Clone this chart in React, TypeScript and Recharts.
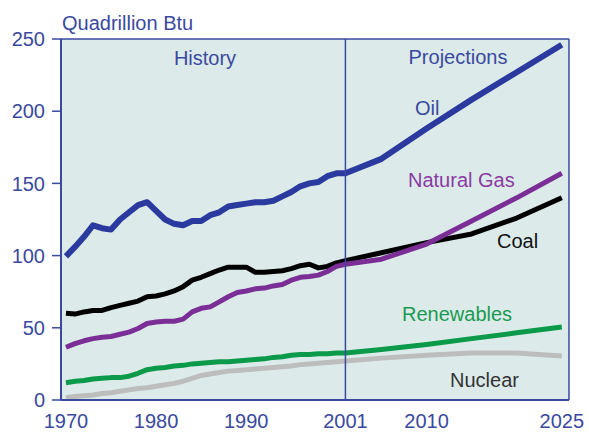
import React from 'react'
import { LineChart, Line, XAxis, YAxis, CartesianGrid, ReferenceLine } from 'recharts'

// years: annual history 1970-2001, then projection points
const years = [
  1970, 1971, 1972, 1973, 1974, 1975, 1976, 1977, 1978, 1979,
  1980, 1981, 1982, 1983, 1984, 1985, 1986, 1987, 1988, 1989,
  1990, 1991, 1992, 1993, 1994, 1995, 1996, 1997, 1998, 1999,
  2000, 2001, 2005, 2010, 2015, 2020, 2025,
]

const oil = [
  99.5, 106, 113, 121, 119, 118, 125, 130, 135, 137,
  131, 125, 122, 121, 124, 124, 128, 130, 134, 135,
  136, 137, 137, 138, 141, 144, 148, 150, 151, 155,
  157, 157, 167, 188, 208, 227, 246,
]

const gas = [
  36.5, 39, 41, 42.5, 43.5, 44, 45.5, 47, 49.5, 53,
  54, 54.5, 54.5, 56, 61, 63.5, 64.5, 68, 71.5, 74.5,
  75.5, 77, 77.5, 79, 80, 83, 85, 85.5, 86.5, 89,
  92.5, 94, 97.5, 108, 124, 140, 157,
]

const coal = [
  60, 59.5, 61, 62, 62, 64, 65.5, 67, 68.5, 71.5,
  72, 73.5, 75.5, 78.5, 83, 85, 87.5, 90, 92, 92,
  92, 88.5, 88.5, 89, 89.5, 91, 93, 94, 91.5, 92.5,
  95, 96.5, 102, 109, 115, 126, 140,
]

const renewables = [
  12, 13, 13.5, 14.5, 15, 15.5, 15.5, 16.5, 18.5, 21,
  22, 22.5, 23.5, 24, 25, 25.5, 26, 26.5, 26.5, 27,
  27.5, 28, 28.5, 29.5, 30, 31, 31.5, 31.5, 32, 32,
  32.5, 32.5, 35, 38.5, 42.5, 46.5, 50.5,
]

const nuclear = [
  1.5, 2.5, 3, 3.5, 4.5, 5, 6, 7, 8, 8.5,
  9.5, 10.5, 11.5, 13, 15, 17, 18, 19, 20, 20.5,
  21, 21.5, 22, 22.5, 23, 23.5, 24.5, 25, 25.5, 26,
  26.5, 27, 29, 31, 32.5, 32.5, 30.5,
]

const xTicks = [1970, 1980, 1990, 2001, 2010, 2025]
const yTicks = [0, 50, 100, 150, 200, 250]

const rows = years.map((y, i) => ({
  year: y,
  oil: oil[i],
  gas: gas[i],
  coal: coal[i],
  renewables: renewables[i],
  nuclear: nuclear[i],
}))

const FONT = '"Liberation Sans", Arial, Helvetica, sans-serif'
const BLUE = '#3a49a0'
const X_MIN = 1969.45
const X_MAX = 2025.8

export default function App() {
  return (
    <div style={{ position: 'absolute', left: 0, top: 0, width: 589, height: 434, background: '#fff', fontFamily: FONT }}>
      <LineChart width={589} height={434} data={rows} margin={{ top: 39, right: 20, bottom: 0, left: 0 }}>
        <CartesianGrid horizontal={false} vertical={false} fill="#dcebea" />
        <XAxis
          dataKey="year"
          type="number"
          domain={[X_MIN, X_MAX]}
          allowDataOverflow
          ticks={xTicks}
          height={34}
          tickSize={0}
          tickMargin={14}
          axisLine={{ stroke: BLUE, strokeWidth: 2 }}
          tick={{ fill: BLUE, fontSize: 20, fontFamily: FONT }}
        />
        <YAxis
          domain={[0, 250]}
          ticks={yTicks}
          width={61}
          tickSize={9}
          tickMargin={7}
          axisLine={{ stroke: BLUE, strokeWidth: 2 }}
          tickLine={{ stroke: BLUE, strokeWidth: 1.5 }}
          tick={{ fill: BLUE, fontSize: 20, fontFamily: FONT }}
        />
        <Line dataKey="nuclear" type="linear" stroke="#bdbdbd" strokeWidth={5} dot={false} isAnimationActive={false} strokeLinejoin="round" />
        <Line dataKey="renewables" type="linear" stroke="#0b9a4a" strokeWidth={5} dot={false} isAnimationActive={false} strokeLinejoin="round" />
        <Line dataKey="coal" type="linear" stroke="#000000" strokeWidth={5} dot={false} isAnimationActive={false} strokeLinejoin="round" />
        <Line dataKey="gas" type="linear" stroke="#7a2e96" strokeWidth={5} dot={false} isAnimationActive={false} strokeLinejoin="round" />
        <Line dataKey="oil" type="linear" stroke="#2b3a9e" strokeWidth={6} dot={false} isAnimationActive={false} strokeLinejoin="round" />
        <ReferenceLine x={2001} stroke={BLUE} strokeWidth={1.5} />
        <ReferenceLine y={250} stroke={BLUE} strokeWidth={1.5} />
        <ReferenceLine x={X_MAX} stroke={BLUE} strokeWidth={1.5} />
      </LineChart>
      <svg width={589} height={434} style={{ position: 'absolute', left: 0, top: 0, pointerEvents: 'none' }}>
        <g fontFamily={FONT} fontSize={20}>
          <text x={62} y={30} fill={BLUE}>Quadrillion Btu</text>
          <text x={205} y={65} fill={BLUE} textAnchor="middle">History</text>
          <text x={458} y={64} fill={BLUE} textAnchor="middle">Projections</text>
          <text x={415} y={115} fill={BLUE}>Oil</text>
          <text x={408} y={187} fill="#8a3aa0">Natural Gas</text>
          <text x={497} y={248} fill="#111">Coal</text>
          <text x={402} y={321} fill="#1a9a50">Renewables</text>
          <text x={450} y={387} fill="#333">Nuclear</text>
        </g>
      </svg>
    </div>
  )
}
